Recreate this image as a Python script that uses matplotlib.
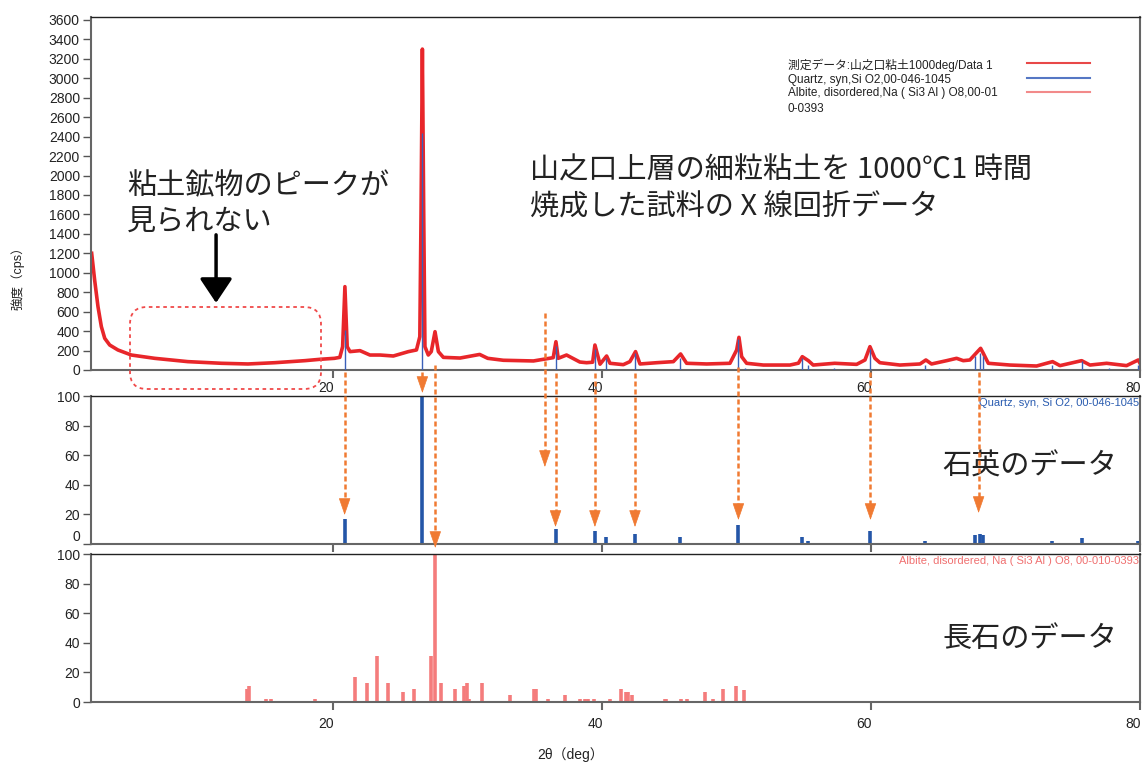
import numpy as np
import matplotlib
matplotlib.use("Agg")
import matplotlib.pyplot as plt
import matplotlib.lines as mlines
import matplotlib.transforms as mtrans
from matplotlib.patches import FancyBboxPatch, FancyArrowPatch

plt.rcParams['font.family'] = ['Liberation Sans', 'Noto Sans CJK JP', 'DejaVu Sans']
CJK = ['Noto Sans CJK JP', 'DejaVu Sans']

theta = [2.05, 2.27, 2.52, 2.77, 3.02, 3.39, 4.0, 5.0, 6.74, 9.2, 11.7, 13.67, 15.66,
         17.9, 19.03, 20.1, 20.5, 20.71, 20.88, 21.05, 21.26, 22.0, 22.74, 23.49, 24.48,
         25.6, 26.2, 26.45, 26.54, 26.64, 26.74, 26.83, 27.08, 27.3, 27.58, 27.83, 28.2,
         29.44, 30.9, 31.5, 32.66, 34.9, 36.37, 36.57, 36.74, 37.36, 38.35, 38.85, 39.3,
         39.47, 39.85, 40.34, 40.59, 41.58, 42.07, 42.49, 42.82, 44.06, 45.3, 45.84, 46.29,
         47.78, 49.51, 50.01, 50.18, 50.38, 50.75, 51.99, 53.97, 54.6, 54.89, 55.34, 55.7,
         57.3, 58.93, 59.55, 59.92, 60.29, 60.66, 62.15, 63.64, 64.08, 64.5, 65.62, 66.36,
         66.86, 67.35, 67.8, 68.15, 68.35, 68.72, 70.33, 72.31, 73.5, 74.05, 75.66, 76.28,
         77.52, 79.0, 79.87, 80.0]
counts = [1200, 926, 651, 446, 326, 257, 206, 154, 120, 86, 69, 62, 75,
          96, 110, 120, 130, 240, 857, 240, 189, 199, 154, 154, 144,
          189, 206, 343, 1600, 3300, 1600, 240, 154, 189, 394, 189, 130,
          123, 160, 120, 100, 93, 127, 291, 120, 154, 82, 75, 80,
          257, 60, 144, 69, 55, 86, 189, 62, 75, 86, 165, 69,
          62, 69, 206, 336, 137, 69, 51, 51, 70, 137, 96, 51,
          69, 58, 103, 240, 120, 75, 51, 62, 103, 62, 96, 120,
          96, 103, 171, 223, 171, 69, 51, 41, 86, 45, 96, 51,
          69, 45, 103, 69]

# Quartz, syn, SiO2 00-046-1045 reference lines
quartz_theta = [20.86, 26.64, 36.54, 39.47, 40.29, 42.45, 45.79, 50.14, 50.62, 54.87,
                55.33, 57.24, 59.96, 64.03, 65.79, 67.74, 68.14, 68.32, 73.47, 75.66,
                77.67, 79.88]
quartz_int = [17, 100, 10, 9, 5, 7, 5, 13, 1, 5, 2, 1, 9, 2, 1, 6, 7, 6, 2, 4, 1, 2]

# Albite, disordered 00-010-0393 reference lines
albite_theta = [13.57, 13.72, 15.0, 15.4, 18.65, 21.63, 22.5, 23.3, 24.06, 25.2, 26.0,
                27.3, 27.6, 28.05, 29.1, 29.75, 29.97, 30.1, 31.05, 33.16, 34.95, 35.1,
                36.0, 37.24, 38.37, 38.7, 38.99, 39.4, 40.6, 41.41, 41.78, 41.93, 42.24,
                44.66, 44.79, 45.9, 46.35, 47.64, 48.28, 48.96, 49.2, 49.94, 50.52]
albite_int = [9, 11, 2, 2, 2, 17, 13, 31, 13, 7, 9,
              31, 100, 13, 9, 11, 13, 2, 13, 5, 9, 9,
              2, 5, 2, 2, 2, 2, 2, 9, 7, 7, 5,
              2, 2, 2, 2, 7, 2, 9, 1, 11, 8]

# peaks marked by the orange arrows
arrow_theta = [20.86, 26.64, 27.6, 35.75, 36.54, 39.47, 42.45, 50.14, 59.96, 68.0]
arrow_start = [372, 372, 365, 313, 373, 373, 373, 367, 372, 372]   # px from top
arrow_tip = [515, 393, 548, 467, 527, 527, 527, 520, 520, 513]

W, H = 1147, 768
fig = plt.figure(figsize=(W / 100, H / 100), dpi=100)

ax_top = fig.add_axes([91 / W, 1 - 370 / H, 1049 / W, 353 / H])
ax_mid = fig.add_axes([91 / W, 1 - 544 / H, 1049 / W, 148 / H])
ax_bot = fig.add_axes([91 / W, 1 - 702 / H, 1049 / W, 148 / H])

red = '#e8262a'
blue = '#2456a8'
pink = '#f47c7c'
orange = '#f07a32'

ax_top.plot(theta, counts, color=red, lw=2.6, zorder=2)
ax_top.vlines(quartz_theta, 0, np.array(quartz_int) * 24.4, color='#3a60b8', lw=1.0, zorder=3)
ax_top.set_ylim(0, 3630)
ax_top.set_yticks(np.arange(0, 3601, 200))

ax_mid.vlines(quartz_theta, 0, quartz_int, color=blue, lw=2.6)
ax_mid.set_ylim(0, 100)
ax_mid.set_yticks(np.arange(0, 101, 20))
ax_mid.text(0.999, 0.985, 'Quartz, syn, Si O2, 00-046-1045', transform=ax_mid.transAxes,
            ha='right', va='top', fontsize=8, color='#2a5cb0')

ax_bot.vlines(albite_theta, 0, albite_int, color=pink, lw=2.6)
ax_bot.set_ylim(0, 100)
ax_bot.set_yticks(np.arange(0, 101, 20))
ax_bot.text(0.999, 0.985, 'Albite, disordered, Na ( Si3 Al ) O8, 00-010-0393',
            transform=ax_bot.transAxes, ha='right', va='top', fontsize=8, color='#f07070')

for ax in (ax_top, ax_mid, ax_bot):
    ax.set_xlim(2, 80)
    ax.set_xticks([20, 40, 60, 80])
    ax.tick_params(axis='y', direction='out', length=6, width=1, color='#555',
                   labelsize=10, labelcolor='#222', pad=2)
    ax.tick_params(axis='x', direction='out', length=6, width=1.5, color='#666',
                   labelsize=10, labelcolor='#222', pad=2)
    ax.spines['top'].set_color('#222')
    ax.spines['top'].set_linewidth(1)
    for s in ('left', 'right', 'bottom'):
        ax.spines[s].set_color('#666')
        ax.spines[s].set_linewidth(1.5)
ax_mid.tick_params(axis='x', labelbottom=False)
ax_bot.tick_params(axis='x', pad=5)

# tick labels sit a little left of their ticks in the original
shift = mtrans.ScaledTranslation(-7 / 100, 0, fig.dpi_scale_trans)
for ax in (ax_top, ax_bot):
    for lab in ax.get_xticklabels():
        lab.set_transform(lab.get_transform() + shift)
ax_mid.get_yticklabels()[0].set_verticalalignment('bottom')

# orange dashed arrows linking peaks to reference patterns
blend = mtrans.blended_transform_factory(ax_top.transData, fig.transFigure)
for th, y0, y1 in zip(arrow_theta, arrow_start, arrow_tip):
    fig.add_artist(mlines.Line2D([th, th], [1 - y0 / H, 1 - (y1 - 12) / H], transform=blend,
                                 color=orange, lw=1.8, ls=(0, (2, 1.2)), zorder=5))
    head = FancyArrowPatch((th, 1 - (y1 - 15) / H), (th, 1 - y1 / H), transform=blend,
                           arrowstyle='-|>,head_length=1.1,head_width=0.38', mutation_scale=10,
                           color=orange, lw=0.5, shrinkA=0, shrinkB=0, zorder=6)
    fig.add_artist(head)

# black arrow and dashed rounded box
ax_top.annotate('', xy=(11.3, 690), xytext=(11.3, 1390),
                arrowprops=dict(arrowstyle='-|>,head_length=0.75,head_width=0.5',
                                mutation_scale=20, color='black', lw=2.5,
                                shrinkA=0, shrinkB=0))
box = FancyBboxPatch((1.30, 3.79), 1.91, 0.82, boxstyle='round,pad=0,rounding_size=0.17',
                     transform=fig.dpi_scale_trans, fill=False, ec='#f04a4a', lw=1.3,
                     ls=(0, (2, 2)))
fig.add_artist(box)

# legend drawn by hand like the original
legend_rows = ['測定データ:山之口粘土1000deg/Data 1', 'Quartz, syn,Si O2,00-046-1045',
               'Albite, disordered,Na ( Si3 Al ) O8,00-01', '0-0393']
for lab, y in zip(legend_rows, [69, 83, 96, 112]):
    fig.text(788 / W, 1 - y / H, lab, fontsize=8.5, color='#222', va='baseline')
legend_colors = ['#e84848', '#5577c4', '#f28a8a']
for c, y in zip(legend_colors, [63, 78, 92]):
    fig.add_artist(mlines.Line2D([1027 / W, 1090 / W], [1 - y / H] * 2,
                                 transform=fig.transFigure, color=c, lw=1.5))

# annotations
fig.text(127 / W, 1 - 171 / H, '粘土鉱物のピークが\n見られない', va='top', fontsize=21,
         linespacing=1.3, color='#222', family=CJK)
fig.text(530 / W, 1 - 156 / H, '山之口上層の細粒粘土を 1000℃1 時間\n焼成した試料の X 線回折データ',
         va='top', fontsize=21, linespacing=1.3, color='#222', family=CJK)
fig.text(942 / W, 1 - 467 / H, '石英のデータ', va='center', fontsize=21, color='#222', family=CJK)
fig.text(942 / W, 1 - 639 / H, '長石のデータ', va='center', fontsize=21, color='#222', family=CJK)

fig.text(18 / W, 1 - 275 / H, '強度（cps）', rotation=90, ha='center', va='center',
         fontsize=9, color='#222')
fig.text(571 / W, 1 - 755 / H, '2θ（deg）', ha='center', va='center', fontsize=10, color='#222')

fig.savefig('out.png', dpi=100)
